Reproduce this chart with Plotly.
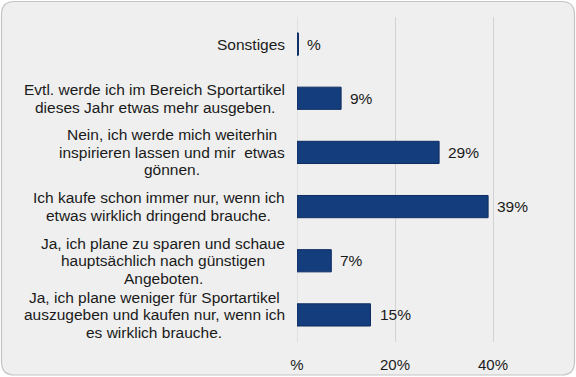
import plotly.graph_objects as go

categories = [
    "Ja, ich plane weniger für Sportartikel<br>auszugeben und kaufen nur, wenn ich<br>es wirklich brauche.",
    "Ja, ich plane zu sparen und schaue<br>hauptsächlich nach günstigen<br>Angeboten.",
    "Ich kaufe schon immer nur, wenn ich<br>etwas wirklich dringend brauche.",
    "Nein, ich werde mich weiterhin<br>inspirieren lassen und mir  etwas<br>gönnen.",
    "Evtl. werde ich im Bereich Sportartikel<br>dieses Jahr etwas mehr ausgeben.",
    "Sonstiges",
]
values = [15, 7, 39, 29, 9, 0.3]
value_labels = ["15%", "7%", "39%", "29%", "9%", "%"]
tick_vals = [0, 20, 40]
tick_text = ["%", "20%", "40%"]

W, H = 576, 377
L, R, T, B = 297, 20, 17, 35
PW, PH = W - L - R, H - T - B
FONT = "Liberation Sans, Arial, sans-serif"
TXT = "#1a1a1a"
LINE_H = 17.5
FS = 15.5

# Arial advance widths (1/1000 em) for approximate centering of label blocks
AW = {" ": 278, ",": 278, ".": 278, "%": 889, "a": 556, "b": 556, "c": 500, "d": 556,
      "e": 556, "f": 278, "g": 556, "h": 556, "i": 222, "j": 222, "k": 500, "l": 222,
      "m": 833, "n": 556, "o": 556, "p": 556, "q": 556, "r": 333, "s": 500, "t": 278,
      "u": 556, "v": 500, "w": 722, "x": 500, "y": 500, "z": 500, "ä": 556, "ö": 556,
      "ü": 556, "A": 667, "B": 667, "E": 667, "I": 278, "J": 500, "N": 722, "S": 667}

def text_w(s):
    return sum(AW.get(ch, 556) for ch in s) * FS / 1000

fig = go.Figure()
fig.add_trace(go.Bar(
    y=list(range(len(categories))), x=values, orientation="h",
    marker=dict(color="#143d7d", line=dict(color="#0e2d60", width=1)),
    hoverinfo="skip",
))

def px(x, y):
    return (x - L) / PW, 1 - (y - T) / PH

def rrect(x0, y0, x1, y1, r):
    def P(x, y):
        a, b = px(x, y)
        return f"{a:.5f},{b:.5f}"
    return (f"M {P(x0+r,y0)} L {P(x1-r,y0)} Q {P(x1,y0)} {P(x1,y0+r)} "
            f"L {P(x1,y1-r)} Q {P(x1,y1)} {P(x1-r,y1)} L {P(x0+r,y1)} "
            f"Q {P(x0,y1)} {P(x0,y1-r)} L {P(x0,y0+r)} Q {P(x0,y0)} {P(x0+r,y0)} Z")

shapes = [dict(type="path", xref="paper", yref="paper", path=rrect(1.5, 1.5, 574.5, 375, 13),
               fillcolor="#efefef", line=dict(color="#c4c4c4", width=1.2), layer="below")]

annotations = []
for i, (c, v, lab) in enumerate(zip(categories, values, value_labels)):
    lines = c.split("<br>")
    n = len(lines)
    maxw = max(text_w(ln) for ln in lines)
    for k, ln in enumerate(lines):
        annotations.append(dict(x=0, y=i, xref="x", yref="y", text=ln, showarrow=False,
                                xanchor="center", yanchor="middle", xshift=-12 - maxw / 2,
                                yshift=((n - 1) / 2 - k) * LINE_H,
                                font=dict(family=FONT, size=FS, color=TXT)))
    annotations.append(dict(x=v, y=i, xref="x", yref="y", text=lab, showarrow=False,
                            xanchor="left", yanchor="middle", xshift=7,
                            font=dict(family=FONT, size=FS, color=TXT)))

fig.update_layout(
    width=W, height=H,
    margin=dict(l=L, r=R, t=T, b=B, autoexpand=False),
    paper_bgcolor="white", plot_bgcolor="rgba(0,0,0,0)",
    showlegend=False, bargap=0.59,
    shapes=shapes, annotations=annotations,
    xaxis=dict(range=[0, PW / 4.9], tickvals=tick_vals, ticktext=tick_text,
               showgrid=True, gridcolor="#d2d2d2", gridwidth=1, zeroline=False,
               showline=False, ticks="outside", ticklen=9, tickcolor="rgba(0,0,0,0)",
               automargin=False,
               tickfont=dict(family=FONT, size=15, color=TXT), fixedrange=True),
    yaxis=dict(range=[-0.5, len(categories) - 0.5], showticklabels=False, showgrid=False,
               zeroline=False, showline=False, ticks="", fixedrange=True, automargin=False),
)
fig.add_shape(type="line", xref="x", yref="paper", x0=0, x1=0, y0=0, y1=1,
              line=dict(color="#d2d2d2", width=1), layer="below")

fig.write_html("out.html", config={"displayModeBar": False},
               post_script="document.body.style.margin='0';document.body.style.overflow='hidden';")
